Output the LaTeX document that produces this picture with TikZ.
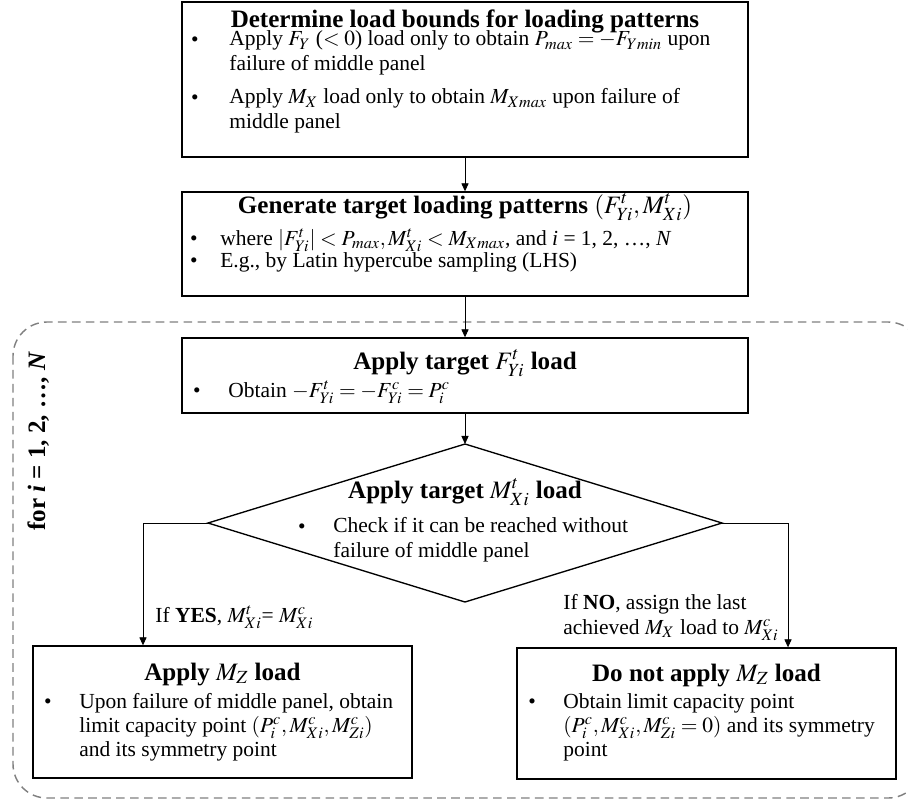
\documentclass[tikz,border=0pt]{standalone}
\usepackage{mathptmx}
\usepackage{fontspec}
\setmainfont{Liberation Serif}
\usetikzlibrary{arrows.meta}

\def\px{0.5587pt}

\tikzset{
  box/.style={draw, line width=0.75pt, inner sep=0pt},
  arr/.style={line width=0.5pt, -{Triangle[length=4.5pt,width=4pt]}},
  loopframe/.style={draw=black!50, line width=0.8pt, dash pattern=on 4.8pt off 3pt, rounded corners=19pt},
  ttl/.style={anchor=base, inner sep=0pt, font=\fontsize{14}{16}\selectfont\bfseries},
  % multi-line texts are placed by the baseline of their last line
  txt/.style={anchor=base west, inner sep=0pt, align=left, font=\fontsize{12}{13.6}\selectfont},
  bul/.style={anchor=base, inner sep=0pt, font=\fontsize{12}{14}\selectfont},
}

\begin{document}
\setlength{\lineskiplimit}{-20pt}
\begin{tikzpicture}[x=\px, y=-\px]
\useasboundingbox (0,0) rectangle (908,803);

% dashed frame of the loop over i (runs past the right edge)
\begin{scope}
  \clip (0,0) rectangle (908,803);
  \draw[loopframe] (13,322) rectangle (922,798);
\end{scope}

% boxes
\node[box, minimum width={566*\px}, minimum height={155*\px}] (b1) at (465,79.5) {};
\node[box, minimum width={566*\px}, minimum height={104*\px}] (b2) at (465,244) {};
\node[box, minimum width={566*\px}, minimum height={75*\px}] (b3) at (465,375.5) {};
\node[box, minimum width={379*\px}, minimum height={132*\px}] (b4) at (222.5,712) {};
\node[box, minimum width={379*\px}, minimum height={131*\px}] (b5) at (706.5,713.5) {};

% decision diamond
\coordinate (dT) at (465,444);
\coordinate (dR) at (722,523);
\coordinate (dB) at (465,602);
\coordinate (dL) at (208,523);
\draw[line width=0.75pt] (dT) -- (dR) -- (dB) -- (dL) -- cycle;

% connectors
\coordinate (yesx) at (143,0);
\coordinate (nox) at (788,0);
\draw[arr] (b1.south) -- (b2.north);
\draw[arr] (b2.south) -- (b3.north);
\draw[arr] (b3.south) -- (dT);
\draw[arr] (dL) -| (b4.north -| yesx);
\draw[arr] (dR) -| (b5.north -| nox);

% box 1
\node[ttl] (t1) at (465,27) {Determine load bounds for loading patterns};
\node[bul] (p1a) at (195,46) {•};
\node[txt] (l1a) at (229,70.3) {Apply $F_Y$ ($<0$) load only to obtain $P_{max}=-F_{Ymin}$ upon\\failure of middle panel};
\node[bul] (p1b) at (195,104) {•};
\node[txt] (l1c) at (229,128.3) {Apply $M_X$ load only to obtain $M_{Xmax}$ upon failure of\\middle panel};

% box 2
\node[ttl] (t2) at (465,213) {Generate target loading patterns \mdseries$(F^t_{Yi}, M^t_{Xi})$};
\node[bul] (p2a) at (194,245) {•};
\node[txt] (l2a) at (220,245) {where $|F^t_{Yi}| < P_{max}, M^t_{Xi} < M_{Xmax}$, and \textit{i} = 1, 2, …, \textit{N}};
\node[bul] (p2b) at (194,267) {•};
\node[txt] (l2b) at (220,267) {E.g., by Latin hypercube sampling (LHS)};

% box 3
\node[ttl] (t3) at (465,369) {Apply target $F^t_{Yi}$ load};
\node[bul] (p3a) at (197,397) {•};
\node[txt] (l3a) at (228,397) {Obtain $-F^t_{Yi} = -F^c_{Yi} = P^c_i$};

% diamond text
\node[ttl] (td) at (465,498) {Apply target $M^t_{Xi}$ load};
\node[bul] (pda) at (302,533) {•};
\node[txt] (lda) at (333,557.3) {Check if it can be reached without\\failure of middle panel};

% branch labels
\node[txt] (yes) at (155,622) {If \textbf{YES}, $M^t_{Xi}$= $M^c_{Xi}$};
\node[txt] (no) at (563,634.3) {If \textbf{NO}, assign the last\\achieved $M_X$ load to $M^c_{Xi}$};

% box 4
\node[ttl] (t4) at (222.5,680) {Apply $M_Z$ load};
\node[bul] (p4a) at (48,708) {•};
\node[txt] (l4a) at (79,756.7) {Upon failure of middle panel, obtain\\limit capacity point $(P^c_i, M^c_{Xi}, M^c_{Zi})$\\and its symmetry point};

% box 5
\node[ttl] (t5) at (706.5,681) {Do not apply $M_Z$ load};
\node[bul] (p5a) at (532,708) {•};
\node[txt] (l5a) at (563,756.7) {Obtain limit capacity point\\$(P^c_i, M^c_{Xi}, M^c_{Zi}=0)$ and its symmetry\\point};

% loop label
\node[rotate=90, anchor=base west, inner sep=0pt, font=\fontsize{14}{16}\selectfont\bfseries] (loop) at (45,531) {for \textit{i} = 1, 2, …, \textit{N}};
\end{tikzpicture}
\end{document}
